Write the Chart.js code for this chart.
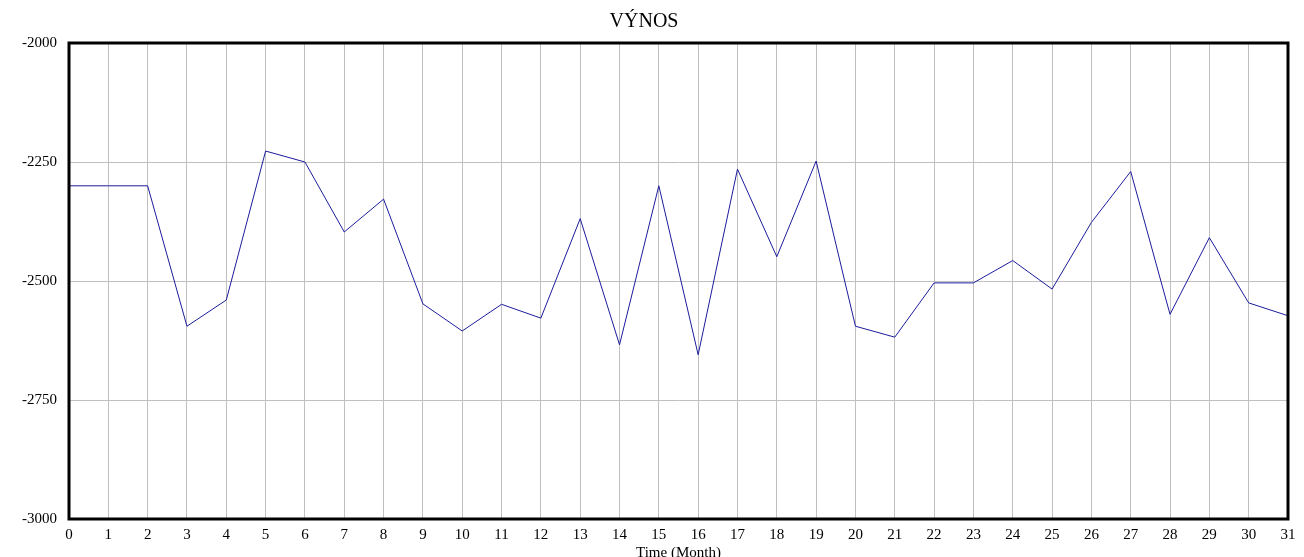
<!DOCTYPE html>
<html>
<head>
<meta charset="utf-8">
<script src="https://cdn.jsdelivr.net/npm/chart.js@4"></script>
<style>
  html, body { margin: 0; padding: 0; background: #fff; }
  #wrap { width: 1304px; height: 557px; }
</style>
</head>
<body>
<div id="wrap"><canvas id="chart"></canvas></div>
<script>
const months = ["0","1","2","3","4","5","6","7","8","9","10","11","12","13","14","15","16","17","18","19","20","21","22","23","24","25","26","27","28","29","30","31"];
const vynos = [-2300, -2300, -2300, -2595, -2540, -2227, -2250, -2397, -2328, -2548, -2605, -2549, -2578, -2369, -2634, -2300, -2655, -2265, -2449, -2248, -2595, -2618, -2504, -2504, -2457, -2517, -2377, -2270, -2570, -2409, -2546, -2573];

const serif = "'Liberation Serif', 'Times New Roman', serif";

// black frame round the plot area
const frame = {
    id: 'frame',
    afterDraw(chart) {
        const a = chart.chartArea;
        const c = chart.ctx;
        c.save();
        c.strokeStyle = '#000';
        c.lineWidth = 3;
        c.strokeRect(a.left, a.top, a.right - a.left, a.bottom - a.top);
        c.restore();
    }
};

const ctx = document.querySelector('#chart').getContext('2d');
new Chart(ctx, {
    type: 'line',
    data: {
        labels: months,
        datasets: [{
            label: 'VÝNOS',
            data: vynos,
            borderColor: '#1c1c9c',
            borderWidth: 1,
            pointRadius: 0,
            tension: 0
        }]
    },
    options: {
        responsive: true,
        maintainAspectRatio: false,
        animation: false,
        layout: { padding: { left: 0, right: 16, top: 0, bottom: 0 } },
        scales: {
            x: {
                offset: false,
                grid: { color: '#c0c0c0', drawTicks: false },
                border: { display: false },
                ticks: { color: '#000', font: { family: serif, size: 15 }, padding: 7, maxRotation: 0, autoSkip: false },
                title: { display: true, text: 'Time (Month)', color: '#000', font: { family: serif, size: 15 }, padding: { top: 0, bottom: -5 } },
                afterFit(s) { s.height = 38; }
            },
            y: {
                min: -3000,
                max: -2000,
                grid: { color: '#c0c0c0', drawTicks: false },
                border: { display: false },
                ticks: {
                    stepSize: 250, color: '#000', font: { family: serif, size: 15 }, padding: 12,
                    callback: v => String(v)
                },
                afterFit(s) { s.width = 69; }
            }
        },
        plugins: {
            legend: { display: false },
            tooltip: { enabled: false },
            title: {
                display: true,
                text: 'VÝNOS',
                color: '#000',
                font: { family: serif, size: 20, weight: 'normal' },
                padding: { top: 10, bottom: 9 }
            }
        }
    },
    plugins: [frame]
});
</script>
</body>
</html>
